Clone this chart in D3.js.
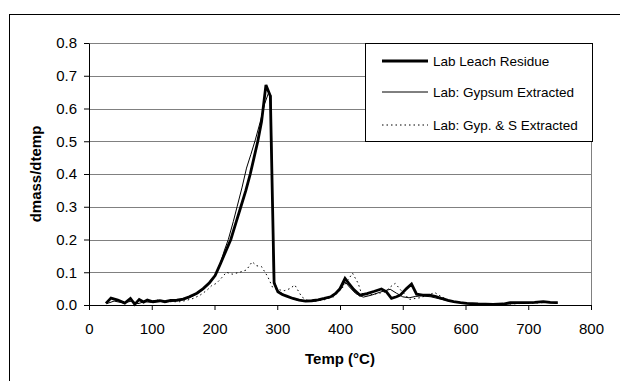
<!DOCTYPE html>
<html>
<head>
<meta charset="utf-8">
<script src="https://cdn.jsdelivr.net/npm/d3@7"></script>
<style>
  body { margin: 0; background: #fff; }
  text { font-family: "Liberation Sans", Arial, sans-serif; }
</style>
</head>
<body>
<div class="viz"></div>
<script>
// series data: temperature (°C) and dmass/dtemp
var leachTemp = [27, 35, 46, 57, 66, 73, 80, 87, 93, 102, 113, 121, 130, 140, 150, 160, 172, 182, 192, 201,
  209, 217, 226, 234, 242, 250, 257, 263, 269, 275, 282, 289, 295, 301, 308, 315, 325, 335, 345, 355,
  365, 375, 385, 393, 400, 408, 414, 422, 432, 443, 455, 466, 474, 482, 490, 496, 506, 514, 522, 532,
  543, 553, 562, 572, 581, 592, 602, 620, 644, 660, 671, 690, 710, 724, 735, 747];
var leach = [0.005, 0.021, 0.015, 0.006, 0.020, 0.002, 0.017, 0.009, 0.015, 0.010, 0.013, 0.010, 0.014, 0.015, 0.018, 0.025, 0.036, 0.050, 0.068, 0.090,
  0.124, 0.160, 0.200, 0.250, 0.300, 0.350, 0.400, 0.450, 0.500, 0.560, 0.672, 0.638, 0.067, 0.040, 0.032, 0.027, 0.020, 0.015, 0.012, 0.013,
  0.016, 0.020, 0.025, 0.035, 0.050, 0.081, 0.066, 0.047, 0.030, 0.035, 0.042, 0.049, 0.040, 0.020, 0.025, 0.030, 0.050, 0.064, 0.033, 0.030,
  0.030, 0.026, 0.020, 0.014, 0.010, 0.007, 0.005, 0.003, 0.002, 0.003, 0.007, 0.007, 0.008, 0.010, 0.008, 0.007];

var gypTemp = [28, 40, 55, 68, 78, 88, 100, 115, 125, 140, 150, 160, 172, 182, 192, 201, 209, 216, 222, 230,
  236, 244, 251, 258, 265, 273, 280, 286, 290, 294, 300, 308, 318, 330, 345, 360, 375, 390, 400, 408,
  415, 425, 437, 450, 465, 480, 490, 500, 510, 520, 530, 545, 560, 575, 590, 605, 630, 660, 690, 720, 747];
var gyp = [0.004, 0.012, 0.006, 0.012, 0.004, 0.010, 0.008, 0.014, 0.010, 0.012, 0.016, 0.022, 0.034, 0.048, 0.066, 0.092, 0.126, 0.168, 0.200, 0.255,
  0.300, 0.360, 0.418, 0.460, 0.504, 0.560, 0.615, 0.647, 0.640, 0.080, 0.045, 0.035, 0.024, 0.016, 0.012, 0.012, 0.018, 0.028, 0.045, 0.071,
  0.055, 0.035, 0.024, 0.030, 0.040, 0.048, 0.036, 0.025, 0.022, 0.026, 0.028, 0.025, 0.018, 0.012, 0.008, 0.005, 0.003, 0.003, 0.005, 0.008, 0.006];

var gypSTemp = [80, 90, 100, 110, 120, 130, 145, 155, 166, 177, 188, 196, 203, 210, 219, 228, 240, 251, 260, 267,
  275, 285, 293, 304, 312, 320, 328, 339, 347, 360, 375, 390, 405, 420, 429, 434, 445, 460, 472, 480,
  488, 498, 511, 520, 527, 540, 551, 562, 572, 585, 600, 630, 655, 680, 710, 730, 747];
var gypS = [0.015, 0.010, 0.012, 0.015, 0.008, 0.010, 0.010, 0.014, 0.020, 0.030, 0.045, 0.060, 0.066, 0.080, 0.100, 0.094, 0.100, 0.107, 0.132, 0.120,
  0.117, 0.086, 0.052, 0.046, 0.044, 0.050, 0.061, 0.025, 0.015, 0.012, 0.016, 0.025, 0.055, 0.097, 0.066, 0.036, 0.030, 0.035, 0.040, 0.055,
  0.066, 0.043, 0.017, 0.020, 0.022, 0.030, 0.038, 0.025, 0.015, 0.010, 0.005, 0.003, 0.001, 0.004, 0.006, 0.008, 0.006];

var seriesNames = ["Lab Leach Residue", "Lab: Gypsum Extracted", "Lab: Gyp. & S Extracted"];
var xTicks = [0, 100, 200, 300, 400, 500, 600, 700, 800];
var yTicks = [0, 0.1, 0.2, 0.3, 0.4, 0.5, 0.6, 0.7, 0.8];

// set the dimensions and margins of the graph
var margin = {top: 43, right: 29, bottom: 76, left: 89},
    width = 620 - margin.left - margin.right,
    height = 381 - margin.top - margin.bottom;

var root = d3.select(".viz")
  .append("svg")
    .attr("width", 620)
    .attr("height", 381);

// outer chart frame (runs off the right and bottom edges)
root.append("rect")
  .attr("x", 9.5).attr("y", 14.5)
  .attr("width", 640).attr("height", 400)
  .attr("fill", "none")
  .attr("stroke", "#000")
  .attr("stroke-width", 1);

var svg = root.append("g")
  .attr("transform", "translate(" + margin.left + "," + margin.top + ")");

var x = d3.scaleLinear().domain([0, 800]).range([0, width]);
var y = d3.scaleLinear().domain([0, 0.8]).range([height, 0]);

// gridlines
svg.append("g")
  .selectAll("line")
  .data(yTicks.slice(1))
  .join("line")
    .attr("x1", 0).attr("x2", width)
    .attr("y1", d => Math.round(y(d)) + 0.5)
    .attr("y2", d => Math.round(y(d)) + 0.5)
    .attr("stroke", "#808080");

// right border of plot area
svg.append("line")
  .attr("x1", width + 0.5).attr("x2", width + 0.5)
  .attr("y1", 0).attr("y2", height)
  .attr("stroke", "#808080");

// axes
var xAxis = svg.append("g")
  .attr("transform", "translate(0," + height + ")")
  .call(d3.axisBottom(x).tickValues(xTicks).tickSize(5).tickPadding(13).tickSizeOuter(0));

var yAxis = svg.append("g")
  .call(d3.axisLeft(y).tickValues(yTicks).tickFormat(d3.format(".1f")).tickSize(5).tickPadding(7).tickSizeOuter(0));

[xAxis, yAxis].forEach(function(g) {
  g.selectAll("path, line").attr("stroke", "#000");
  g.selectAll("text")
    .attr("fill", "#000")
    .style("font-size", "15px")
    .style("font-family", "'Liberation Sans', Arial, sans-serif");
});

// lines
var line = d3.line()
  .x(d => x(d[0]))
  .y(d => y(d[1]));

var series = [
  {temp: gypSTemp, vals: gypS, w: 1, dash: "1.5,3"},
  {temp: gypTemp, vals: gyp, w: 1, dash: null},
  {temp: leachTemp, vals: leach, w: 2.8, dash: null}
];

series.forEach(function(s) {
  svg.append("path")
    .datum(s.temp.map((t, i) => [t, s.vals[i]]))
    .attr("fill", "none")
    .attr("stroke", "#000")
    .attr("stroke-width", s.w)
    .attr("stroke-linejoin", "miter")
    .attr("stroke-dasharray", s.dash)
    .attr("d", line);
});

// axis titles
root.append("text")
  .attr("x", 340)
  .attr("y", 364)
  .attr("text-anchor", "middle")
  .style("font-size", "15px")
  .style("font-weight", "bold")
  .text("Temp (°C)");

root.append("text")
  .attr("transform", "translate(40.5,174) rotate(-90)")
  .attr("text-anchor", "middle")
  .style("font-size", "15px")
  .style("font-weight", "bold")
  .text("dmass/dtemp");

// legend
var legend = root.append("g");
legend.append("rect")
  .attr("x", 365.5).attr("y", 43.5)
  .attr("width", 227).attr("height", 98)
  .attr("fill", "#fff")
  .attr("stroke", "#000");

var legendStyle = [
  {w: 2.8, dash: null, cy: 61},
  {w: 1, dash: null, cy: 92},
  {w: 1, dash: "1.5,3", cy: 125}
];

seriesNames.forEach(function(name, i) {
  var st = legendStyle[i];
  legend.append("line")
    .attr("x1", 382).attr("x2", 428)
    .attr("y1", st.cy).attr("y2", st.cy)
    .attr("stroke", "#000")
    .attr("stroke-width", st.w)
    .attr("stroke-dasharray", st.dash);
  legend.append("text")
    .attr("x", 433)
    .attr("y", st.cy)
    .attr("dy", "0.35em")
    .style("font-size", "13.5px")
    .text(name);
});
</script>
</body>
</html>
